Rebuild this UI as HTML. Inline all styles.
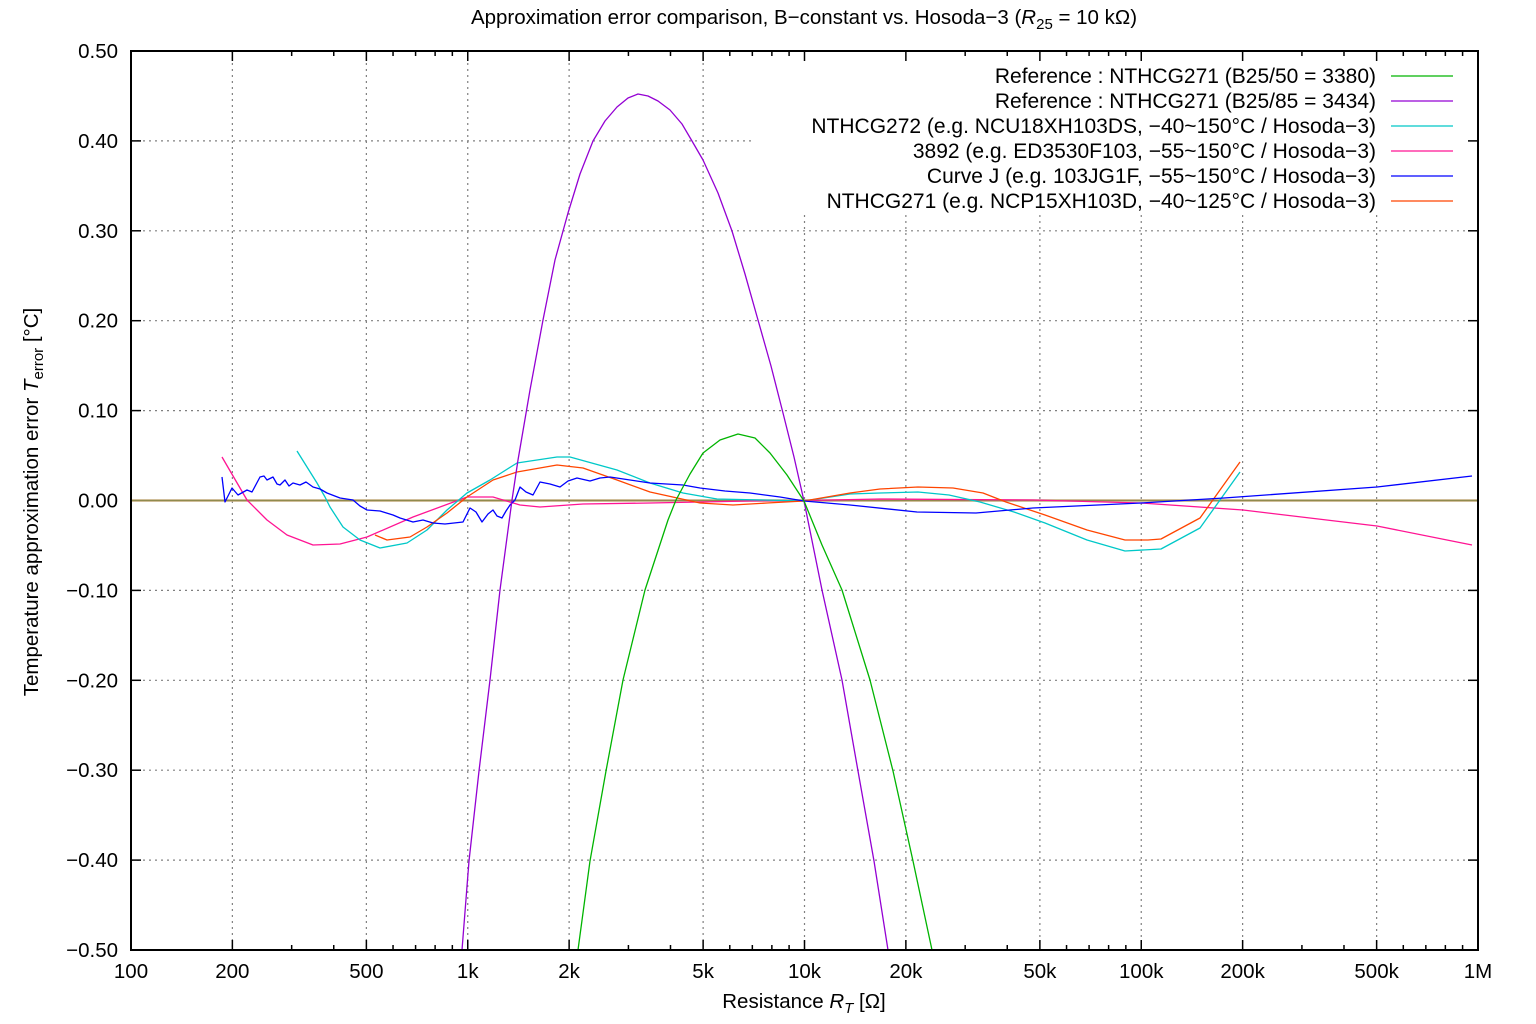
<!DOCTYPE html>
<html><head><meta charset="utf-8"><style>
html,body{margin:0;padding:0;background:#fff;}
svg{display:block;font-family:"Liberation Sans",Arial,sans-serif;}
</style></head><body>
<svg id="s" width="1536" height="1024" viewBox="0 0 1536 1024" xmlns="http://www.w3.org/2000/svg">
<rect width="1536" height="1024" fill="#fff"/>
<g id="grid" stroke="#808080" stroke-width="1.2" stroke-dasharray="2,4" fill="none"></g>
<rect x="752" y="55" width="722" height="158" fill="#fff"/>
<g id="ticks" stroke="#000" stroke-width="1.5"></g>
<g id="curves" fill="none" stroke-width="1.3" stroke-linejoin="round"></g>
<rect x="131" y="51" width="1347" height="899" fill="none" stroke="#000" stroke-width="2"/>
<g id="labels" font-size="20.5" fill="#000"></g>
<text x="804" y="24" font-size="20.5" text-anchor="middle">Approximation error comparison, B−constant vs. Hosoda−3 (<tspan font-style="italic">R</tspan><tspan font-size="15" dy="5">25</tspan><tspan dy="-5"> = 10 kΩ)</tspan></text>
<text x="804" y="1008" font-size="20.5" text-anchor="middle">Resistance <tspan font-style="italic">R</tspan><tspan font-size="15" font-style="italic" dy="5">T</tspan><tspan dy="-5"> [Ω]</tspan></text>
<text transform="translate(38,502) rotate(-90)" font-size="20.5" text-anchor="middle">Temperature approximation error <tspan font-style="italic">T</tspan><tspan font-size="15" dy="5">error</tspan><tspan dy="-5"> [°C]</tspan></text>
<g id="legend" font-size="21" text-anchor="end"></g>
</svg>
<script>
const NS="http://www.w3.org/2000/svg";
function el(p,t,a,txt){const e=document.createElementNS(NS,t);for(const k in a)e.setAttribute(k,a[k]);if(txt!==undefined)e.textContent=txt;document.getElementById(p).appendChild(e);return e;}
const X=r=>131+336.75*(Math.log10(r)-2);
const Y=v=>500.5-v*899;
for(let i=-5;i<=5;i++){const y=Y(i/10);
 if(i!==-5&&i!==5){
  if(i===4) el("grid","line",{x1:131,y1:y,x2:752,y2:y});
  else el("grid","line",{x1:131,y1:y,x2:1478,y2:y});
 }
 el("ticks","line",{x1:131,y1:y,x2:141,y2:y});el("ticks","line",{x1:1468,y1:y,x2:1478,y2:y});
 let s=(i<0?"−":"")+(Math.abs(i)/10).toFixed(2);
 el("labels","text",{x:118,y:y+7,"text-anchor":"end"},s);
}
const majors=[[100,"100"],[200,"200"],[500,"500"],[1e3,"1k"],[2e3,"2k"],[5e3,"5k"],[1e4,"10k"],[2e4,"20k"],[5e4,"50k"],[1e5,"100k"],[2e5,"200k"],[5e5,"500k"],[1e6,"1M"]];
majors.forEach(([r,l])=>{const x=X(r);
 if(r>100&&r<1e6){ el("grid","line",{x1:x,y1:(r>=1e4?215:51),x2:x,y2:950}); }
 el("ticks","line",{x1:x,y1:950,x2:x,y2:940});el("ticks","line",{x1:x,y1:51,x2:x,y2:61});
 el("labels","text",{x:x,y:978,"text-anchor":"middle"},l);
});
for(let d=100;d<1e6;d*=10){for(const m of [3,4,6,7,8,9]){const x=X(d*m);
 el("ticks","line",{x1:x,y1:950,x2:x,y2:945});el("ticks","line",{x1:x,y1:51,x2:x,y2:56});}}
function pl(c,pts,w){el("curves","polyline",{points:pts.map(p=>p.join(",")).join(" "),stroke:c,"stroke-width":w||1.3});}
el("curves","line",{x1:131,y1:500.5,x2:1478,y2:500.5,stroke:"#c0a878","stroke-width":2.5});
el("curves","line",{x1:131,y1:500.5,x2:1478,y2:500.5,stroke:"#808040","stroke-width":0.8});
pl("#ff1493",[[222,457],[247,500],[267,520],[287,535],[313,545],[340,544],[367,537],[413,517],[467,497],[493,497],[520,505],[540,507],[583,504],[650,503],[750,501],[805,500.5],[880,499],[1033,500],[1141,503],[1243,510],[1377,526],[1472,545]]);
pl("#00c8c8",[[297,451],[307,467],[317,483],[325,497],[330,507],[343,527],[360,540],[380,548],[407,543],[427,530],[447,510],[467,493],[490,480],[517,463],[557,457],[570,457],[617,470],[650,483],[683,493],[717,499],[804,501],[850,494],[880,493],[918,492],[949,495],[980,502],[1014,512],[1045,523],[1087,540],[1125,551],[1161,549],[1200,528],[1240,472]]);
pl("#ff4500",[[375,535],[387,540],[410,537],[427,527],[447,513],[467,497],[493,480],[517,472],[557,465],[583,468],[617,480],[650,492],[700,503],[733,505],[767,503],[804,501],[850,493],[880,489],[918,487],[953,488],[983,493],[1006,502],[1045,515],[1087,530],[1125,540],[1148,540],[1161,539],[1200,518],[1240,462]]);
pl("#0000ff",[[222,477],[225,502],[232,488],[238,495],[247,490],[252,492],[260,477],[264,476],[267,480],[273,477],[277,484],[280,485],[285,480],[289,486],[293,483],[300,485],[306,482],[313,487],[320,489],[327,493],[340,498],[353,500],[360,506],[367,510],[380,511],[393,515],[400,518],[413,522],[423,520],[433,523],[445,524],[463,522],[470,508],[476,512],[482,522],[488,514],[493,510],[497,516],[502,518],[506,511],[510,505],[515,500],[520,487],[526,492],[533,495],[540,482],[550,484],[560,487],[568,481],[577,478],[590,481],[600,478],[610,477],[630,480],[650,483],[683,485],[700,488],[725,491],[750,493],[780,497],[804,501],[850,505],[917,512],[976,513],[1033,508],[1141,503],[1224,498],[1377,487],[1472,476]]);
pl("#9400d3",[[462,950],[469,861],[479,771],[490,680],[500,590],[512,500],[518,460],[530,390],[543,320],[555,260],[568,213],[580,174],[593,141],[605,121],[617,107],[628,98],[638,94],[648,96],[658,101],[670,110],[682,124],[692,141],[703,160],[718,193],[732,231],[745,274],[758,320],[771,366],[783,413],[794,457],[804,501],[822,590],[842,680],[858,771],[874,861],[888,950]]);
pl("#00b400",[[578,950],[590,861],[606,771],[623,680],[645,590],[668,520],[676,500],[690,474],[703,453],[720,440],[738,434],[755,438],[770,453],[787,475],[804,501],[822,545],[842,590],[870,680],[893,771],[913,861],[932,950]]);
const L=[["Reference : NTHCG271 (B25/50 = 3380)","#00b400"],["Reference : NTHCG271 (B25/85 = 3434)","#9400d3"],["NTHCG272 (e.g. NCU18XH103DS, −40~150°C / Hosoda−3)","#00c8c8"],["3892 (e.g. ED3530F103, −55~150°C / Hosoda−3)","#ff1493"],["Curve J (e.g. 103JG1F, −55~150°C / Hosoda−3)","#0000ff"],["NTHCG271 (e.g. NCP15XH103D, −40~125°C / Hosoda−3)","#ff4500"]];
L.forEach(([t,c],i)=>{const y=76+i*25;
 el("legend","text",{x:1376,y:y+7},t);
 el("legend","line",{x1:1391,y1:y,x2:1453,y2:y,stroke:c,"stroke-width":1.3});});
</script>
</body></html>
